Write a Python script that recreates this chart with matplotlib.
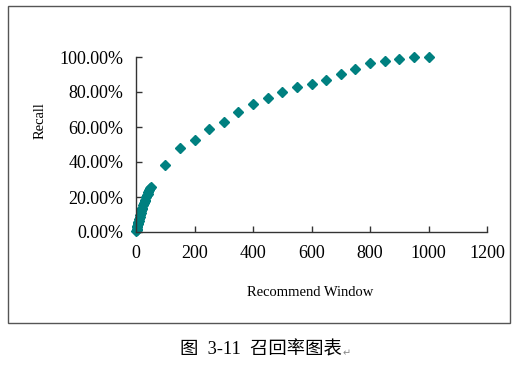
import matplotlib.pyplot as plt
from matplotlib.patches import Rectangle
from matplotlib.ticker import FuncFormatter

# recommend window size vs. recall (%)
window = [1, 2, 3, 4, 5, 6, 7, 8, 9, 10, 12, 14, 16, 18, 20, 22, 25, 28, 30,
          32, 35, 38, 40, 42, 45, 48, 50,
          100, 150, 200, 250, 300, 350, 400, 450, 500, 550, 600, 650, 700,
          750, 800, 850, 900, 950, 1000]
recall = [0.5, 1.2, 2.0, 2.8, 3.6, 4.4, 5.1, 5.8, 6.5, 7.2, 8.4, 9.6, 10.8,
          11.9, 12.9, 13.9, 15.3, 16.7, 17.6, 18.5, 19.8, 21.1, 21.9, 22.7,
          23.9, 25.0, 26.0,
          38.3, 47.8, 52.8, 58.8, 62.8, 68.6, 73.4, 76.6, 80.2, 83.0, 84.8,
          87.1, 90.4, 93.3, 96.3, 97.9, 99.0, 99.8, 100.0]

xticks = [0, 200, 400, 600, 800, 1000, 1200]
yticks = [0, 20, 40, 60, 80, 100]

W, H = 516, 366
fig = plt.figure(figsize=(W / 100, H / 100), dpi=100)
ax = fig.add_axes([136 / W, (H - 232) / H, (487 - 136) / W, (232 - 57) / H])

ax.plot(window, recall, linestyle="none", marker="D", markersize=4.6,
        color="#008080", clip_on=False)

ax.set_xlim(0, 1200)
ax.set_ylim(0, 100)
ax.set_xticks(xticks)
ax.set_yticks(yticks)
ax.yaxis.set_major_formatter(FuncFormatter(lambda v, p: f"{v:.2f}%"))

for s in ["top", "right"]:
    ax.spines[s].set_visible(False)
for s in ["left", "bottom"]:
    ax.spines[s].set_color("#333333")
    ax.spines[s].set_linewidth(1)

ax.tick_params(direction="in", length=4, width=1, color="#333333",
               labelsize=13, pad=9)
for lab in ax.get_xticklabels() + ax.get_yticklabels():
    lab.set_family("Liberation Serif")

fig.text(310 / W, 1 - 293 / H, "Recommend Window", ha="center", va="center",
         fontsize=10.5, family="Liberation Serif")
fig.text(40 / W, 1 - 121 / H, "Recall", ha="center", va="center",
         rotation=90, fontsize=10.5, family="Liberation Serif")

# outer chart frame
fig.patches.append(Rectangle((8 / W, (H - 323) / H), (510 - 8) / W, (323 - 6) / H,
                             transform=fig.transFigure, fill=False,
                             edgecolor="#555555", linewidth=1))

fig.text(180 / W, 1 - 350 / H, "图  3-11  召回率图表", ha="left", va="center",
         fontsize=13.2, family=["Liberation Serif", "Noto Sans CJK SC"])
fig.text(347 / W, 1 - 353 / H, "↵", ha="center", va="center",
         fontsize=7, color="#888888", family="DejaVu Sans")

fig.savefig("out.png", dpi=100)
